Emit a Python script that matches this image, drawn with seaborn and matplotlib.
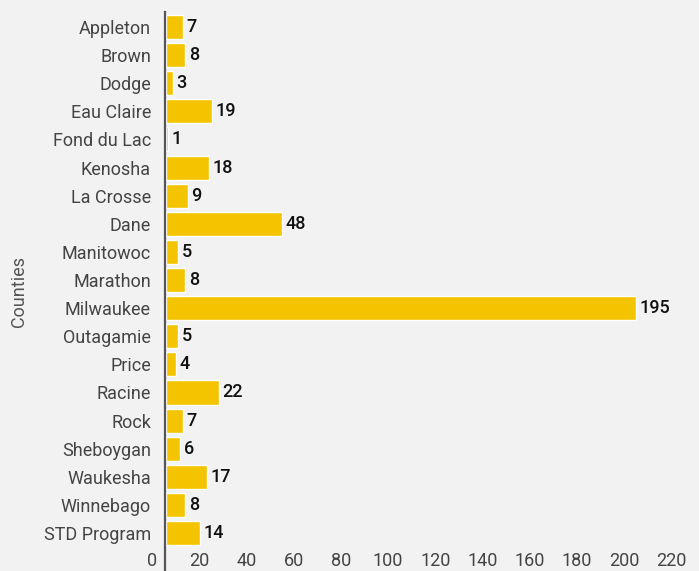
import matplotlib
matplotlib.use("Agg")
import matplotlib.pyplot as plt
import seaborn as sns
import pandas as pd

counties = ["Appleton", "Brown", "Dodge", "Eau Claire", "Fond du Lac", "Kenosha",
            "La Crosse", "Dane", "Manitowoc", "Marathon", "Milwaukee", "Outagamie",
            "Price", "Racine", "Rock", "Sheboygan", "Waukesha", "Winnebago", "STD Program"]
values = [7, 8, 3, 19, 1, 18, 9, 48, 5, 8, 195, 5, 4, 22, 7, 6, 17, 8, 14]
tick_labels = ["0", "20", "40", "60", "80", "100", "120", "140", "160", "180", "200", "220"]

df = pd.DataFrame({"county": counties, "value": values})

sns.set_theme(style="white")
plt.rcParams["font.family"] = ["Roboto", "DejaVu Sans"]

BG = "#F2F2F2"
BAR = "#F5C400"
W, H = 699, 571
XMIN, XMAX = -7.8, 221.3
PX = 2.41  # pixels per unit
left_px = 166 + XMIN * PX
fig = plt.figure(figsize=(W / 100, H / 100), dpi=100, facecolor=BG)
ax = fig.add_axes([left_px / W, 0, (W - left_px) / W, (H - 12) / H])
ax.set_facecolor(BG)

sns.barplot(data=df, x="value", y="county", orient="h", color=BAR,
            width=0.855, saturation=1, ax=ax, order=counties)

for i, v in enumerate(values):
    ax.annotate(str(v), (v, i), xytext=(2.5, 0), textcoords="offset points",
                va="center", ha="left", fontsize=13, color="#111111",
                fontweight="medium")

# tick label positions as in the reference (slightly offset scale)
tick_pos = [-5.8 + 19.6 * k for k in range(len(tick_labels))]
ax.set_xticks(tick_pos)
ax.set_xticklabels(tick_labels)
ax.set_ylim(19.35, -0.534)
ax.set_xlim(XMIN, XMAX)
ax.tick_params(axis="x", length=0, pad=-13.5, labelsize=13, labelcolor="#444444")
ax.tick_params(axis="y", length=0, pad=10, labelsize=13, labelcolor="#444444")

ax.set_xlabel("")
ax.set_ylabel("Counties", fontsize=13, color="#555555", labelpad=11)

for s in ["top", "right", "bottom"]:
    ax.spines[s].set_visible(False)
ax.spines["left"].set_position(("data", -0.5))
ax.spines["left"].set_color("#555555")
ax.spines["left"].set_linewidth(1.6)

fig.savefig("out.png", dpi=100, facecolor=BG)
